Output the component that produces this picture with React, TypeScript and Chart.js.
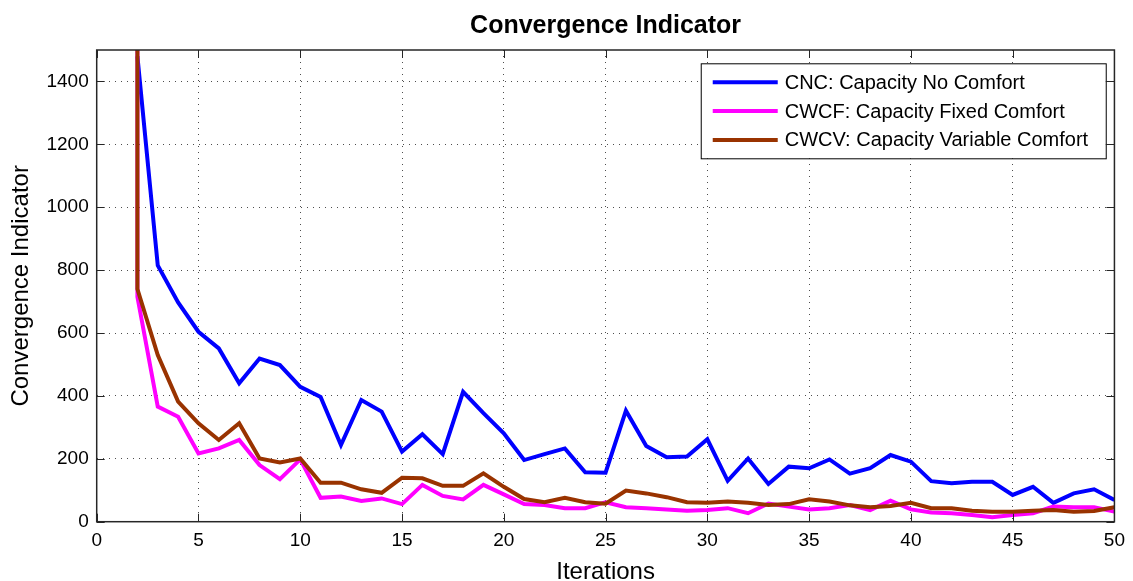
import React, { useEffect, useRef } from "react";
import { Chart, registerables } from "chart.js";

Chart.register(...registerables);

const chartTitle = "Convergence Indicator";
const xAxisTitle = "Iterations";
const yAxisTitle = "Convergence Indicator";

const iterations = [
  2, 2, 3, 4, 5, 6, 7, 8, 9, 10, 11, 12, 13, 14, 15, 16, 17, 18, 19, 20, 21, 22, 23, 24, 25,
  26, 27, 28, 29, 30, 31, 32, 33, 34, 35, 36, 37, 38, 39, 40, 41, 42, 43, 44, 45, 46, 47, 48, 49, 50,
];

const cncValues = [
  1480, 1480, 815, 697, 604, 551, 440, 519, 498, 429, 397, 244, 387, 350, 223, 278, 215, 413, 345, 281,
  196, 215, 233, 157, 156, 353, 241, 205, 207, 262, 130, 201, 120, 175, 170, 198, 153, 170, 212, 191,
  129, 122, 127, 127, 85, 111, 60, 90, 103, 69,
];

const cwcfValues = [
  3000, 715, 366, 334, 217, 233, 260, 180, 135, 198, 76, 80, 66, 74, 56, 117, 82, 71, 117, 87,
  56, 53, 43, 43, 62, 46, 43, 39, 35, 37, 43, 27, 58, 48, 39, 43, 53, 37, 67, 39,
  29, 27, 21, 14, 21, 27, 48, 46, 46, 32,
];

const cwcvValues = [
  3000, 740, 530, 382, 313, 260, 313, 201, 188, 201, 124, 124, 103, 92, 140, 138, 114, 114, 154, 111,
  72, 62, 76, 62, 57, 99, 90, 78, 62, 60, 64, 60, 53, 56, 71, 64, 52, 46, 50, 60,
  43, 43, 35, 32, 32, 35, 37, 32, 34, 46,
];

const seriesLabels = [
  "CNC: Capacity No Comfort",
  "CWCF: Capacity Fixed Comfort",
  "CWCV: Capacity Variable Comfort",
];
const seriesColors = ["#0000ff", "#ff00ff", "#993300"];

const xTicks = [0, 5, 10, 15, 20, 25, 30, 35, 40, 45, 50];
const yTicks = [0, 200, 400, 600, 800, 1000, 1200, 1400];

const FONT = "'Liberation Sans', Arial, Helvetica, sans-serif";

const framePlugin = {
  id: "matlabFrame",
  afterLayout(chart: any) {
    const tb = chart.titleBlock;
    if (tb) {
      tb.left = chart.chartArea.left;
      tb.right = chart.chartArea.right;
    }
  },
  afterDatasetsDraw(chart: any) {
    const { ctx, chartArea: a, scales } = chart;
    ctx.save();
    ctx.strokeStyle = "#262626";
    ctx.lineWidth = 1;
    const tl = 8;
    const seg = (x1: number, y1: number, x2: number, y2: number) => {
      ctx.beginPath();
      ctx.moveTo(x1, y1);
      ctx.lineTo(x2, y2);
      ctx.stroke();
    };
    scales.x.ticks.forEach((t: any) => {
      const px = Math.round(scales.x.getPixelForValue(t.value)) + 0.5;
      seg(px, a.bottom, px, a.bottom - tl);
      seg(px, a.top, px, a.top + tl);
    });
    scales.y.ticks.forEach((t: any) => {
      const py = Math.round(scales.y.getPixelForValue(t.value)) + 0.5;
      seg(a.left, py, a.left + tl, py);
      seg(a.right, py, a.right - tl, py);
    });
    ctx.lineWidth = 1.5;
    ctx.strokeRect(a.left, a.top, a.right - a.left, a.bottom - a.top);

    const bw = 405;
    const bh = 95;
    const bx = a.right - 8.7 - bw;
    const by = a.top + 13.3;
    ctx.fillStyle = "#ffffff";
    ctx.fillRect(bx, by, bw, bh);
    ctx.strokeStyle = "#000000";
    ctx.lineWidth = 1;
    ctx.strokeRect(bx + 0.5, by + 0.5, bw, bh);
    ctx.font = `20px ${FONT}`;
    ctx.textBaseline = "middle";
    ctx.textAlign = "left";
    chart.data.datasets.forEach((ds: any, i: number) => {
      const ry = by + 19 + i * 28.8;
      ctx.strokeStyle = ds.borderColor;
      ctx.lineWidth = 4;
      seg(bx + 12, ry, bx + 77, ry);
      ctx.fillStyle = "#000000";
      ctx.fillText(ds.label, bx + 84, ry + 1);
    });
    ctx.restore();
  },
};

export default function App() {
  const canvasRef = useRef<HTMLCanvasElement | null>(null);

  useEffect(() => {
    if (!canvasRef.current) return;
    const toPoints = (vals: number[]) => vals.map((v, i) => ({ x: iterations[i], y: v }));
    const allValues = [cncValues, cwcfValues, cwcvValues];
    const orders = [2, 1, 0];
    const chart = new Chart(canvasRef.current, {
      type: "line",
      data: {
        datasets: allValues.map((vals, i) => ({
          label: seriesLabels[i],
          data: toPoints(vals),
          borderColor: seriesColors[i],
          backgroundColor: seriesColors[i],
          borderWidth: 4,
          pointRadius: 0,
          tension: 0,
          fill: false,
          clip: 0,
          order: orders[i],
        })),
      },
      options: {
        responsive: false,
        animation: false,
        events: [],
        layout: { padding: { left: 0, right: 16.3, top: 0, bottom: 0 } },
        font: { family: FONT },
        plugins: {
          legend: { display: false },
          tooltip: { enabled: false },
          title: {
            display: true,
            text: chartTitle,
            color: "#000000",
            font: { family: FONT, size: 25, weight: "bold", lineHeight: 1.2 },
            padding: { top: 11, bottom: 9 },
          },
        },
        scales: {
          x: {
            type: "linear",
            position: "bottom",
            min: 0,
            max: 50,
            afterBuildTicks: (s: any) => {
              s.ticks = xTicks.map((v) => ({ value: v }));
            },
            afterFit: (s: any) => {
              s.height = 59.3;
            },
            ticks: {
              color: "#000000",
              font: { family: FONT, size: 19 },
              padding: 8,
              maxRotation: 0,
              autoSkip: false,
              callback: (v: any) => String(v),
            },
            grid: {
              display: true,
              drawTicks: false,
              color: "#4d4d4d",
              lineWidth: 1,
            },
            border: { display: false, dash: [1, 5] },
            title: {
              display: true,
              text: xAxisTitle,
              color: "#000000",
              font: { family: FONT, size: 24, lineHeight: 1 },
              padding: { top: 0, bottom: -3 },
            },
          },
          y: {
            type: "linear",
            position: "left",
            min: 0,
            max: 1500,
            afterBuildTicks: (s: any) => {
              s.ticks = yTicks.map((v) => ({ value: v }));
            },
            afterFit: (s: any) => {
              s.width = 96.7;
            },
            ticks: {
              color: "#000000",
              font: { family: FONT, size: 19 },
              padding: 8,
              autoSkip: false,
              callback: (v: any) => String(v),
            },
            grid: {
              display: true,
              drawTicks: false,
              color: "#4d4d4d",
              lineWidth: 1,
            },
            border: { display: false, dash: [1, 5] },
            title: {
              display: true,
              text: yAxisTitle,
              color: "#000000",
              font: { family: FONT, size: 24, lineHeight: 1.2 },
              padding: { top: 7.3, bottom: 0 },
            },
          },
        },
      },
      plugins: [framePlugin],
    } as any);
    return () => chart.destroy();
  }, []);

  return (
    <div
      style={{
        position: "absolute",
        left: 0,
        top: 0,
        width: 1133,
        height: 581,
        background: "#ffffff",
      }}
    >
      <canvas ref={canvasRef} width={1133} height={581} style={{ display: "block" }} />
    </div>
  );
}
